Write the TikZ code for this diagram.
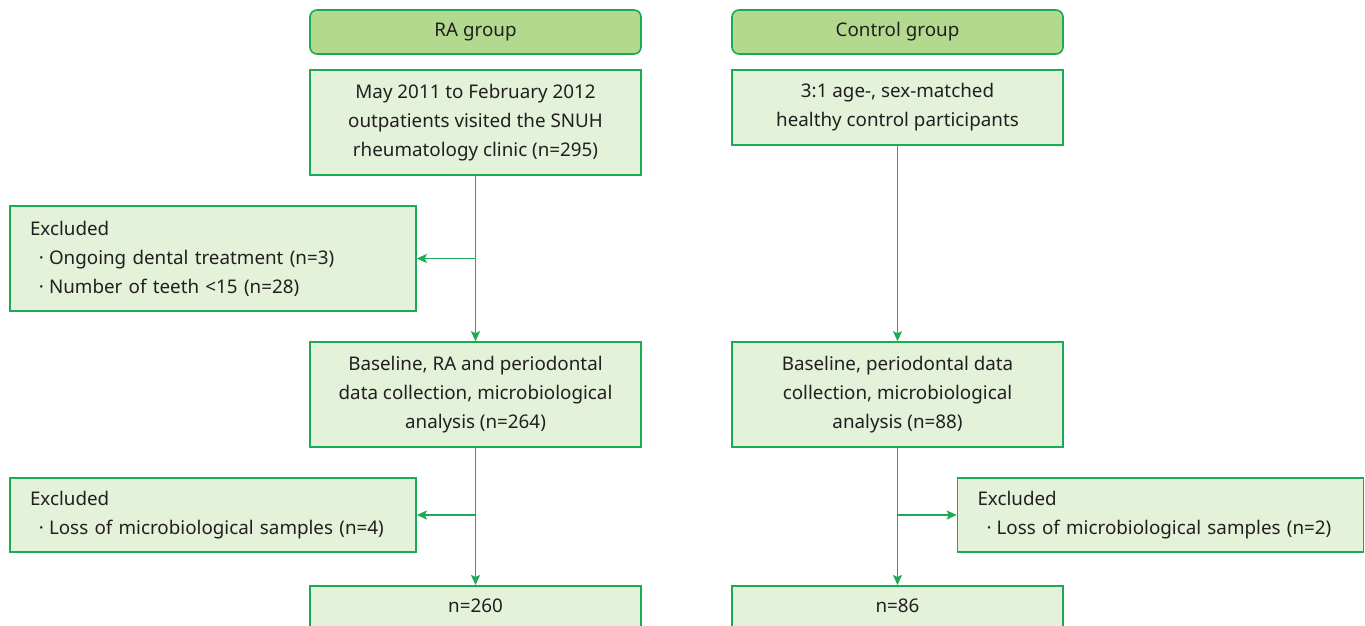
\documentclass[tikz,border=0pt]{standalone}
\usepackage{fontspec}
\setmainfont{Noto Sans}
\usetikzlibrary{arrows.meta}
\definecolor{gline}{HTML}{1DAA55}
\definecolor{gfill}{HTML}{E3F2D9}
\definecolor{hfill}{HTML}{B3D98E}
\definecolor{txt}{HTML}{231F20}
\tikzset{
  box/.style={draw=gline, line width=1.6pt, fill=gfill, inner sep=0pt, minimum width=331pt, align=center, text=txt, font=\fontsize{18.8}{29}\selectfont},
  head/.style={box, fill=hfill, rounded corners=7pt, minimum height=44pt},
  exbox/.style={draw=gline, line width=1.6pt, fill=gfill, inner xsep=20pt, inner ysep=0pt, text width=366pt, align=left, text=txt, font=\fontsize{18.8}{29}\selectfont},
  arr/.style={draw=gline, line width=1.6pt, -{Stealth[length=10pt,width=9pt,inset=2pt]}},
}
\newcommand{\bul}{\hspace*{9pt}·\hspace{5pt}}
\begin{document}
\begin{tikzpicture}[x=1pt,y=-1pt]
\useasboundingbox (0,0) rectangle (1365,626);
\clip (0,0) rectangle (1365,626);
% headers
\node[head] (rah) at (475.5,32) {RA group};
\node[head] (cth) at (897.5,32) {Control group};
% RA column
\node[box, minimum height=105pt] (ra1) at (475.5,122.5) {May 2011 to February 2012\\outpatients visited the SNUH\\rheumatology clinic (n=295)};
\node[box, minimum height=105pt] (ra2) at (475.5,394.5) {Baseline, RA and periodontal\\data collection, microbiological\\analysis (n=264)};
\node[box, minimum height=60pt, anchor=north] (ra3) at (475.5,585) {};
\node[text=txt, font=\fontsize{18.8}{29}\selectfont] (ra3t) at (475.5,606) {n=260};
% Control column
\node[box, minimum height=75pt] (ct1) at (897.5,107.5) {3:1 age-, sex-matched\\healthy control participants};
\node[box, minimum height=105pt] (ct2) at (897.5,394.5) {Baseline, periodontal data\\collection, microbiological\\analysis (n=88)};
\node[box, minimum height=60pt, anchor=north] (ct3) at (897.5,585) {};
\node[text=txt, font=\fontsize{18.8}{29}\selectfont] (ct3t) at (897.5,606) {n=86};
% excluded boxes
\node[exbox, minimum height=105pt] (ex1) at (213,258.5) {Excluded\\\bul Ongoing dental treatment (n=3)\\\bul Number of teeth <15 (n=28)};
\node[exbox, minimum height=74pt] (ex2) at (213,515) {Excluded\\\bul Loss of microbiological samples (n=4)};
\node[exbox, minimum height=74pt] (ex3) at (1160.5,515) {Excluded\\\bul Loss of microbiological samples (n=2)};
% connectors
\draw[arr] (ra1) -- (ra2);
\draw[arr] (ra1 |- ex1) -- (ex1.east);
\draw[arr] (ra2) -- (ra3);
\draw[arr] (ra2 |- ex2) -- (ex2.east);
\draw[arr] (ct1) -- (ct2);
\draw[arr] (ct2) -- (ct3);
\draw[arr] (ct2 |- ex3) -- (ex3.west);
\end{tikzpicture}
\end{document}
